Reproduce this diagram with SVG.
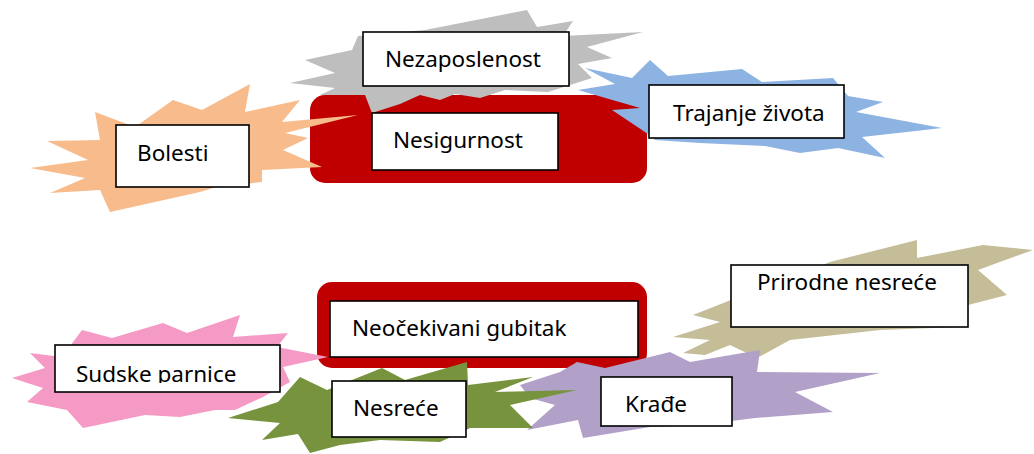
<svg xmlns="http://www.w3.org/2000/svg" width="1034" height="454" viewBox="0 0 1034 454">
<defs>
<style>
.box{fill:#ffffff;stroke:#000000;stroke-width:1.6}
.lbl{font-family:"Noto Sans","Open Sans","DejaVu Sans",sans-serif;font-size:22.5px;fill:#000000}
.burst{filter:url(#soft)}
</style>
<filter id="soft" x="-5%" y="-5%" width="110%" height="110%"><feGaussianBlur stdDeviation="0.7"/></filter>
<clipPath id="clipSudske"><rect x="55" y="345" width="225" height="38"/></clipPath>
</defs>
<rect width="1034" height="454" fill="#ffffff"/>
<g id="background-shapes">
<rect x="310" y="95" width="337" height="88" rx="15" fill="#C00000"/>
<rect x="317" y="282" width="330" height="86" rx="15" fill="#C00000"/>
<polygon class="burst" fill="#F8BC8C" points="30,168 88,160 47,141 100,140 95,112 135,127 173,100 202,110 250,84 245,112 300,100 282,122 358,115 285,133 308,138 283,150 322,167 262,170 262,182 213,188 200,192 110,212 100,190 50,193 85,178"/>
<polygon class="burst" fill="#BEBEBE" points="290,83 335,73 305,60 352,50 358,36 425,30 527,10 537,27 573,21 563,36 643,32 587,47 612,58 578,64 592,78 548,92 505,90 480,98 455,94 440,100 420,95 400,104 372,113 365,95 320,95 335,88"/>
<polygon class="burst" fill="#8DB3E2" points="585,68 632,78 650,60 668,76 742,69 762,82 833,78 848,96 883,102 856,112 942,128 862,137 885,158 838,148 800,153 765,146 700,143 655,140 648,134 612,110 640,108 578,90 615,84"/>
<polygon class="burst" fill="#C4BD97" points="673,337 720,322 693,315 731,300 760,290 830,262 917,240 917,258 983,245 1033,250 978,270 1007,295 968,305 960,327 880,330 790,340 757,358 730,345 705,355 683,353 710,340"/>
<polygon class="burst" fill="#F59AC5" points="12,378 45,368 30,353 62,357 82,330 112,338 163,323 187,333 240,315 233,337 288,333 277,347 328,357 283,367 290,382 263,397 235,410 215,410 180,417 145,415 83,428 67,410 27,402 43,388"/>
<polygon class="burst" fill="#B1A0C7" points="520,385 560,372 577,362 605,368 670,352 690,362 760,350 757,372 880,373 795,392 833,412 755,418 700,425 650,427 583,438 578,420 527,430 555,405 530,398"/>
<polygon class="burst" fill="#77933C" points="228,418 278,402 300,377 327,390 382,368 405,380 467,362 468,385 533,377 495,392 577,390 510,405 533,428 470,428 440,442 380,440 340,445 310,453 298,434 262,440 280,423"/>
</g>
<g id="node-bolesti">
<rect class="box" x="116" y="125" width="133" height="62"/>
<text class="lbl" x="137" y="161">Bolesti</text>
</g>
<g id="node-nezaposlenost">
<rect class="box" x="363" y="32" width="206" height="54"/>
<text class="lbl" x="385" y="67">Nezaposlenost</text>
</g>
<g id="node-nesigurnost">
<rect class="box" x="372" y="113" width="186" height="57"/>
<text class="lbl" x="393" y="148">Nesigurnost</text>
</g>
<g id="node-trajanje">
<rect class="box" x="649" y="85" width="195" height="53"/>
<text class="lbl" x="673" y="121">Trajanje života</text>
</g>
<g id="node-neocekivani">
<rect class="box" x="330" y="301" width="308" height="56"/>
<text class="lbl" x="352" y="336">Neočekivani gubitak</text>
</g>
<g id="node-sudske">
<rect class="box" x="55" y="345" width="225" height="47"/>
<text class="lbl" x="76" y="382" clip-path="url(#clipSudske)">Sudske parnice</text>
</g>
<g id="node-nesrece">
<rect class="box" x="332" y="381" width="134" height="56"/>
<text class="lbl" x="353" y="416">Nesreće</text>
</g>
<g id="node-krade">
<rect class="box" x="601" y="377" width="131" height="49"/>
<text class="lbl" x="625" y="412">Krađe</text>
</g>
<g id="node-prirodne">
<rect class="box" x="731" y="265" width="237" height="62"/>
<text class="lbl" x="757" y="290">Prirodne nesreće</text>
</g>
</svg>
